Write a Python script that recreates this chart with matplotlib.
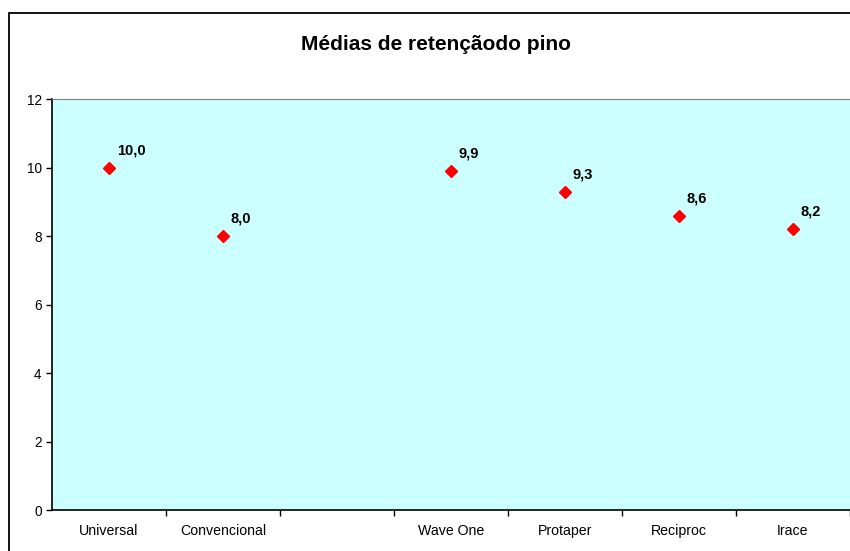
import matplotlib
matplotlib.use("Agg")
import matplotlib.pyplot as plt
from matplotlib.patches import Rectangle
import numpy as np

plt.rcParams["font.family"] = ["Liberation Sans", "DejaVu Sans"]

categories = ["Universal", "Convencional", "", "Wave One", "Protaper", "Reciproc", "Irace"]
values = [10.0, 8.0, np.nan, 9.9, 9.3, 8.6, 8.2]
labels = ["10,0", "8,0", "", "9,9", "9,3", "8,6", "8,2"]

fig = plt.figure(figsize=(8.5, 5.51), dpi=100)

# chart border (Excel-style frame, cut off at right/bottom)
W, H = 850, 551
fig.patches.append(Rectangle((8.5 / W, -0.05), 1.1, (H - 12.7) / H + 0.05,
                             transform=fig.transFigure, fill=False,
                             edgecolor="black", linewidth=1.3))

ax = fig.add_axes([52 / W, (H - 510) / H, (W - 52) / W, (510 - 99.3) / H])
ax.set_facecolor("#CCFFFF")

x = np.arange(len(categories))
ax.plot(x, values, linestyle="none", marker="D", markersize=5.8,
        color="#FF0000", markeredgecolor="#FF0000")
for xi, v, lab in zip(x, values, labels):
    if lab:
        ax.annotate(lab, (xi, v), xytext=(5.5, 7.5), textcoords="offset points",
                    ha="left", va="bottom", fontsize=10.5, fontweight="bold")

ax.set_xlim(-0.5, len(categories) - 0.5)
ax.set_ylim(0, 12)
ax.set_yticks(range(0, 13, 2))
ax.set_xticks(x)
ax.set_xticklabels(categories)
ax.set_xticks(np.arange(len(categories)) + 0.5, minor=True)
ax.tick_params(axis="x", which="major", length=0, pad=10, labelsize=10.2)
ax.tick_params(axis="x", which="minor", length=4, width=1, direction="out")
ax.tick_params(axis="y", length=4, width=1, pad=3.5, labelsize=9.8)

ax.spines["right"].set_visible(False)
ax.spines["top"].set_color("#808080")
ax.spines["left"].set_linewidth(1.2)
ax.spines["bottom"].set_linewidth(1.2)

fig.text(436 / W, 1 - 44 / H, "Médias de retençãodo pino", ha="center", va="center",
         fontsize=15, fontweight="bold")

fig.savefig("out.png", dpi=100)
